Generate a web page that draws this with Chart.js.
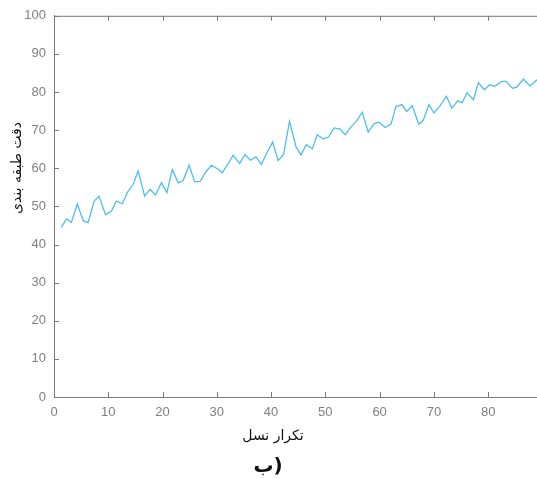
<!DOCTYPE html>
<html>
<head>
<meta charset="utf-8">
<script src="https://cdn.jsdelivr.net/npm/chart.js@4/dist/chart.umd.min.js"></script>
<style>
  html, body { margin: 0; padding: 0; background: #fff; }
  #wrap { width: 537px; height: 479px; position: relative; }
</style>
</head>
<body>
<div id="wrap"><canvas id="c"></canvas></div>
<script>
// generation positions (x) and classification accuracy (y)
const generations = [
  1.35, 2.3, 3.2, 4.3, 5.4, 6.3, 7.4, 8.3, 9.5, 10.6,
  11.5, 12.6, 13.5, 14.6, 15.5, 16.7, 17.7, 18.7, 19.8, 20.8,
  21.8, 22.9, 23.8, 24.9, 25.9, 26.9, 28, 29, 30.2, 31,
  32, 33, 34.2, 35.2, 36.2, 37.2, 38.2, 39.2, 40.3, 41.3,
  42.3, 43.4, 44.6, 45.5, 46.5, 47.6, 48.5, 49.6, 50.6, 51.6,
  52.7, 53.7, 54.7, 55.7, 56.8, 57.9, 59, 59.9, 61, 62.1,
  63, 64.1, 65, 66, 67.2, 68, 69.1, 70, 71.2, 72.3,
  73.3, 74.4, 75.2, 76.1, 77.3, 78.2, 79.3, 80.3, 81.2, 82.5,
  83.3, 84.5, 85.3, 86.5, 87.7, 89
];
const accuracy = [
  44.5, 46.7, 45.8, 50.6, 46.2, 45.8, 51.4, 52.7, 47.8, 48.8,
  51.4, 50.7, 53.6, 55.8, 59.3, 52.7, 54.5, 53, 56.2, 53.6,
  59.7, 56.2, 56.8, 60.8, 56.5, 56.5, 59.1, 60.8, 59.8, 58.8,
  61, 63.4, 61.3, 63.6, 62.1, 63, 61, 64, 66.9, 62,
  63.6, 72.3, 65.6, 63.5, 66.2, 65.1, 68.8, 67.7, 68.2, 70.6,
  70.3, 68.8, 70.8, 72.3, 74.7, 69.5, 71.7, 72.1, 70.7, 71.6,
  76.2, 76.7, 74.9, 76.4, 71.6, 72.5, 76.7, 74.5, 76.5, 78.9,
  75.8, 77.7, 77.2, 79.8, 78, 82.5, 80.6, 81.9, 81.5, 82.8,
  82.8, 81, 81.3, 83.4, 81.6, 83.2
];
const xTicks = [0, 10, 20, 30, 40, 50, 60, 70, 80];
const yTicks = [0, 10, 20, 30, 40, 50, 60, 70, 80, 90, 100];
const xTitle = 'تکرار نسل';
const yTitle = 'دقت طبقه بندی';
const caption = 'ب)';

const axisColor = '#7a7a7a';

// matlab-like frame: top line, inward ticks, titles and caption
const framePlugin = {
  id: 'frame',
  afterDraw(chart) {
    const { ctx, chartArea: a, scales: { x, y } } = chart;
    ctx.save();
    ctx.strokeStyle = axisColor;
    ctx.lineWidth = 1;
    ctx.beginPath();
    ctx.moveTo(a.left, a.top + 0.5);
    ctx.lineTo(a.right, a.top + 0.5);
    xTicks.forEach(v => {
      const px = Math.round(x.getPixelForValue(v)) + 0.5;
      ctx.moveTo(px, a.bottom); ctx.lineTo(px, a.bottom - 5);
      ctx.moveTo(px, a.top); ctx.lineTo(px, a.top + 5);
    });
    yTicks.forEach(v => {
      const py = Math.round(y.getPixelForValue(v)) + 0.5;
      ctx.moveTo(a.left, py); ctx.lineTo(a.left + 5, py);
    });
    ctx.stroke();

    ctx.fillStyle = '#111';
    ctx.font = '14px "DejaVu Sans"';
    ctx.textAlign = 'center';
    ctx.textBaseline = 'middle';
    ctx.fillText(xTitle, 273, 436);

    ctx.save();
    ctx.translate(17, 168);
    ctx.rotate(-Math.PI / 2);
    ctx.fillText(yTitle, 0, 0);
    ctx.restore();

    ctx.font = 'bold 20px "DejaVu Sans"';
    ctx.fillText(caption, 268, 467);
    ctx.restore();
  }
};

new Chart(document.getElementById('c'), {
  type: 'line',
  data: {
    datasets: [{
      data: generations.map((g, i) => ({ x: g, y: accuracy[i] })),
      borderColor: 'rgb(77, 190, 238)',
      borderWidth: 1.3,
      pointRadius: 0,
      tension: 0,
      fill: false
    }]
  },
  options: {
    responsive: true,
    maintainAspectRatio: false,
    animation: false,
    layout: { padding: { top: 14, right: 0, left: 0, bottom: 0 } },
    plugins: { legend: { display: false }, tooltip: { enabled: false } },
    scales: {
      x: {
        type: 'linear',
        min: 0,
        max: 89,
        afterBuildTicks: s => { s.ticks = xTicks.map(v => ({ value: v })); },
        afterFit: s => { s.height = 82; },
        grid: { display: false, drawTicks: false },
        border: { color: axisColor, width: 1 },
        ticks: { color: '#808080', font: { family: 'Liberation Sans', size: 13 }, padding: 8, maxRotation: 0 }
      },
      y: {
        min: 0,
        max: 100,
        afterBuildTicks: s => { s.ticks = yTicks.map(v => ({ value: v })); },
        afterFit: s => { s.width = 54; },
        grid: { display: false, drawTicks: false },
        border: { color: axisColor, width: 1 },
        ticks: { color: '#808080', font: { family: 'Liberation Sans', size: 13 }, padding: 8 }
      }
    }
  },
  plugins: [framePlugin]
});
</script>
</body>
</html>
